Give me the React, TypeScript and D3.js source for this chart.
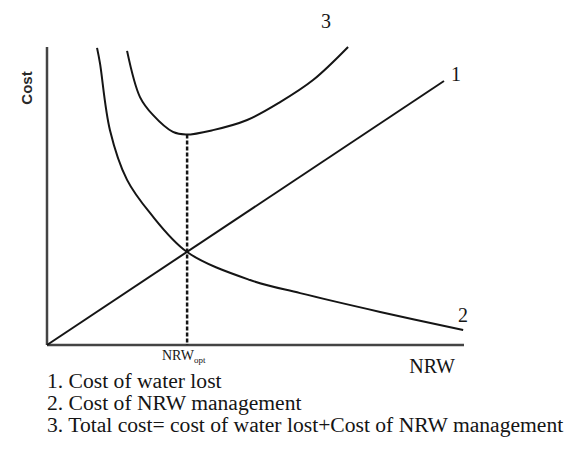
import React from "react";
import * as d3 from "d3";

// values (arbitrary units, x = NRW, y = cost)
const waterLost = [
  [0, 0],
  [9.52, 8.86],
];
const nrwManagement = [
  [1.2, 9.97],
  [1.27, 9.46],
  [1.51, 7.21],
  [1.92, 5.54],
  [2.47, 4.43],
  [3.36, 3.12],
  [4.87, 2.18],
  [6.07, 1.74],
  [7.99, 1.11],
  [9.98, 0.5],
];
const totalCost = [
  [1.92, 9.87],
  [2.23, 8.32],
  [2.54, 7.72],
  [3.02, 7.15],
  [3.33, 7.06],
  [3.98, 7.21],
  [4.8, 7.55],
  [5.59, 8.15],
  [6.38, 8.89],
  [7.22, 10.0],
];
const optimum = 3.36;
const optimumCost = 7.06;
const curveLabels = ["1", "2", "3"];
const legendLines = [
  "1. Cost of water lost",
  "2. Cost of NRW management",
  "3. Total cost= cost of water lost+Cost of NRW management",
];

export default function App() {
  const width = 583;
  const height = 462;
  const x = d3.scaleLinear().domain([0, 10]).range([47, 464]);
  const y = d3.scaleLinear().domain([0, 10]).range([345, 47]);

  const straight = d3
    .line<number[]>()
    .x((d) => x(d[0]))
    .y((d) => y(d[1]));
  const smooth = d3
    .line<number[]>()
    .x((d) => x(d[0]))
    .y((d) => y(d[1]))
    .curve(d3.curveCatmullRom.alpha(0.5));

  const serif = "'Liberation Serif', 'Times New Roman', serif";
  const ink = "#151515";
  // label anchors next to the end of each curve
  const labelPos = [
    [456, 81],
    [463, 322],
    [326, 28],
  ];

  return (
    <svg
      width={width}
      height={height}
      style={{ position: "absolute", left: 0, top: 0, background: "#fff" }}
    >
      {/* axes */}
      <line x1={x(0)} y1={y(0)} x2={x(0)} y2={y(10)} stroke="#444" strokeWidth={2.5} />
      <line x1={x(0)} y1={y(0)} x2={x(10)} y2={y(0)} stroke="#444" strokeWidth={2.5} />

      {/* optimum */}
      <line
        x1={x(optimum)}
        x2={x(optimum)}
        y1={y(optimumCost)}
        y2={y(0)}
        stroke={ink}
        strokeWidth={2.5}
        strokeDasharray="4 2"
      />

      <path d={straight(waterLost) ?? ""} fill="none" stroke={ink} strokeWidth={2} />
      <path d={smooth(nrwManagement) ?? ""} fill="none" stroke={ink} strokeWidth={2} />
      <path d={smooth(totalCost) ?? ""} fill="none" stroke={ink} strokeWidth={2} />

      {/* curve numbers */}
      <g fontFamily={serif} fontSize={20} fill={ink} textAnchor="middle">
        {curveLabels.map((t, i) => (
          <text key={t} x={labelPos[i][0]} y={labelPos[i][1]}>
            {t}
          </text>
        ))}
      </g>

      {/* axis titles */}
      <text
        transform="translate(32,88) rotate(-90)"
        textAnchor="middle"
        fontFamily="'Liberation Sans', Arial, sans-serif"
        fontSize={15}
        fontWeight="bold"
        fill="#2a2a2a"
      >
        Cost
      </text>
      <text x={432} y={373} textAnchor="middle" fontFamily={serif} fontSize={20} fill={ink}>
        NRW
      </text>
      <text x={162} y={360} fontFamily={serif} fontSize={14} fill={ink}>
        NRW
        <tspan fontSize={9} dy={3}>opt</tspan>
      </text>

      {/* legend */}
      <g fontFamily={serif} fontSize={21.6} fill={ink}>
        {legendLines.map((t, i) => (
          <text key={t} x={47} y={388 + i * 22}>
            {t}
          </text>
        ))}
      </g>
    </svg>
  );
}
